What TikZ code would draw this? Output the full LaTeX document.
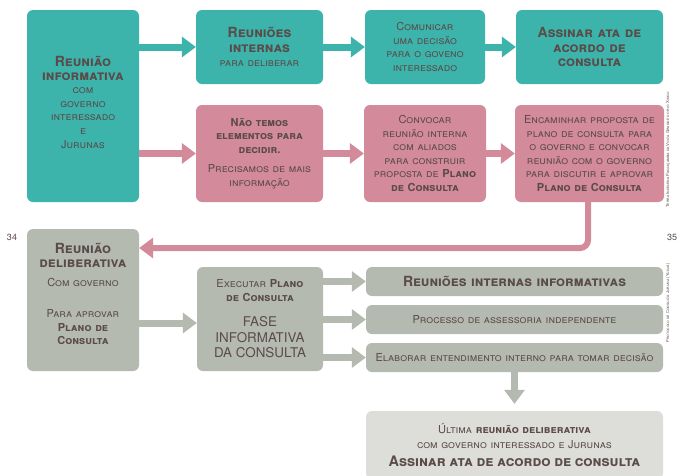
\documentclass[tikz,border=0pt]{standalone}
\usepackage{fontspec}
\setmainfont{TeX Gyre Heros}
\usetikzlibrary{arrows.meta}

\definecolor{verde}{HTML}{3CB4AC}
\definecolor{rosa}{HTML}{D38A9B}
\definecolor{cinza}{HTML}{B5BAB0}
\definecolor{claro}{HTML}{DDDED9}
\definecolor{texto}{HTML}{5A4B49}

\begin{document}
\begin{tikzpicture}[x=1pt, y=-1pt]
        \useasboundingbox (0,0) rectangle (680,475);
        \tikzstyle{caixa} = [rounded corners=6pt, inner sep=2pt, align=center, text=texto,
            font=\scshape\fontsize{11}{13.6}\selectfont]
        \tikzstyle{grande} = [font=\bfseries\scshape\fontsize{14}{14.5}\selectfont]

        % Desenha as caixas.
        \node[caixa, fill=verde, minimum width=112, minimum height=192, text width=108] (A) at (83,106)
            {{\bfseries\fontsize{14}{14}\selectfont Reunião\\informativa\par}com\\governo\\interessado\\e\\Jurunas\par\vspace*{8pt}};
        \node[caixa, fill=verde, minimum width=127, minimum height=74, text width=123] (B1) at (259.5,47)
            {{\bfseries\fontsize{14}{15}\selectfont Reuniões\\internas\par}para deliberar};
        \node[caixa, fill=verde, minimum width=120, minimum height=74, text width=116] (B2) at (425,47)
            {Comunicar\\uma decisão\\para o goveno\\interessado};
        \node[caixa, grande, fill=verde, minimum width=147, minimum height=74, text width=143] (B3) at (589.5,47)
            {Assinar ata de\\acordo de\\consulta};

        \node[caixa, fill=rosa, minimum width=127, minimum height=97, text width=123] (P1) at (259.5,153.5)
            {\textbf{Não temos}\\\textbf{elementos para}\\\textbf{decidir.}\\[6pt]Precisamos de mais\\informação};
        \node[caixa, fill=rosa, minimum width=120, minimum height=97, text width=118] (P2) at (425,153.5)
            {Convocar\\reunião interna\\com aliados\\para construir\\proposta de \textbf{Plano}\\\textbf{de Consulta}};
        \node[caixa, fill=rosa, minimum width=147, minimum height=97, text width=145] (P3) at (589.5,153.5)
            {Encaminhar proposta de\\plano de consulta para\\o governo e convocar\\reunião com o governo\\para discutir e aprovar\\\textbf{Plano de Consulta}};

        \node[caixa, fill=cinza, minimum width=112, minimum height=142, text width=108] (G1) at (83,300)
            {{\bfseries\fontsize{14}{14}\selectfont Reunião\\deliberativa\par}\vspace{5pt}Com governo\\[18pt]Para aprovar\\\textbf{Plano de}\\\textbf{Consulta}\par\vspace*{12pt}};
        \node[caixa, fill=cinza, minimum width=126, minimum height=104, text width=122] (G2) at (260,319)
            {Executar \textbf{Plano}\\\textbf{de Consulta}\par\vspace{10pt}{\upshape\fontsize{13.4}{15.5}\selectfont FASE\\INFORMATIVA\\DA CONSULTA\par}};

        \node[caixa, grande, fill=cinza, minimum width=297, minimum height=29, text width=293] (R1) at (514.5,281.5)
            {Reuniões internas informativas};
        \node[caixa, fill=cinza, minimum width=297, minimum height=29, text width=293] (R2) at (514.5,319.5)
            {Processo de assessoria independente};
        \node[caixa, fill=cinza, minimum width=297, minimum height=29, text width=293] (R3) at (514.5,357.5)
            {Elaborar entendimento interno para tomar decisão};

        \node[caixa, fill=claro, minimum width=297, minimum height=68, text width=293] (F) at (514.5,445)
            {Última \textbf{reunião deliberativa}\\[1pt]com governo interessado e Jurunas\\[3pt]{\bfseries\fontsize{14.5}{15}\selectfont Assinar ata de acordo de consulta\par}};

        % Numeros de pagina e textos laterais.
        \node[text=texto, font=\fontsize{9}{10}\selectfont] (n34) at (12,237) {34};
        \node[text=texto, font=\fontsize{9}{10}\selectfont] (n35) at (672,237) {35};
        \node[text=texto, rotate=90, font=\scshape\fontsize{4.2}{5}\selectfont] (lado1) at (668,150)
            {Terra Indígena Paquiçamba da Volta Grande do rio Xingu};
        \node[text=texto, rotate=90, font=\scshape\fontsize{4.2}{5}\selectfont] (lado2) at (668,303)
            {Protocolo de Consulta Juruna (Yudjá)};

        % Desenha as setas.
        \tikzstyle{seta} = [-{Triangle[width=21pt, length=14pt, line width=0pt]}, line width=7pt]
        \path[seta, color=verde]
            (A.east |- B1.west) edge (B1.west)
            (B1) edge (B2)
            (B2) edge (B3);
        \path[seta, color=rosa]
            (A.east |- P1.west) edge (P1.west)
            (P1) edge (P2)
            (P2) edge (P3);
        \coordinate (volta) at (588,248);
        \draw[seta, color=rosa, line width=6pt, rounded corners=8pt]
            (P3.south -| volta) -- (volta) -- (G1.east |- volta);
        \path[seta, color=cinza]
            ([yshift=-4pt]G1.east |- G2.west) edge ([yshift=-4pt]G2.west)
            (G2.east |- R1.west) edge (R1.west)
            (G2.east |- R2.west) edge (R2.west)
            (G2.east |- R3.west) edge (R3.west);
        \path[seta, color=cinza, shorten >=7pt]
            (R3) edge (F);
\end{tikzpicture}
\end{document}
